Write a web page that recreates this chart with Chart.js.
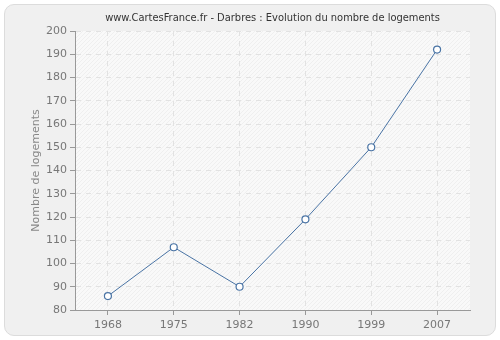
<!DOCTYPE html>
<html>
<head>
<meta charset="utf-8">
<script src="https://cdn.jsdelivr.net/npm/chart.js@4"></script>
<style>
  html, body { margin: 0; padding: 0; background: #fff; }
  .cadre {
    position: absolute; left: 4px; top: 4px; width: 490px; height: 330px;
    background: #f0f0f0; border: 1px solid #dcdcdc; border-radius: 10px;
  }
  .boite { position: absolute; left: 0; top: 0; width: 500px; height: 340px; }
</style>
</head>
<body>
<div class="cadre"></div>
<div class="boite"><canvas id="myChart" width="500" height="340"></canvas></div>
<script>
let annees = ["1968", "1975", "1982", "1990", "1999", "2007"];
let logements = [86, 107, 90, 119, 150, 192];
let titre = "www.CartesFrance.fr - Darbres : Evolution du nombre de logements";
let titreY = "Nombre de logements";

let ctx = document.getElementById("myChart");

// fond hachuré de la zone de tracé
let fondHachure = {
  id: "fondHachure",
  beforeDraw(chart) {
    let a = chart.chartArea;
    let c = chart.ctx;
    c.save();
    c.fillStyle = "#f9f9f9";
    c.fillRect(a.left, a.top, a.right - a.left, a.bottom - a.top);
    c.beginPath();
    c.rect(a.left, a.top, a.right - a.left, a.bottom - a.top);
    c.clip();
    c.strokeStyle = "#efefef";
    c.lineWidth = 1;
    let h = a.bottom - a.top;
    for (let x = a.left - h; x < a.right; x += 4) {
      c.beginPath();
      c.moveTo(x, a.bottom);
      c.lineTo(x + h, a.top);
      c.stroke();
    }
    c.restore();
  }
};

// titre centré au-dessus de la zone de tracé
let titreCentre = {
  id: "titreCentre",
  afterDraw(chart) {
    let a = chart.chartArea;
    let c = chart.ctx;
    c.save();
    c.font = "11px 'DejaVu Sans Condensed', 'DejaVu Sans'";
    c.fillStyle = "#333";
    c.textAlign = "center";
    c.textBaseline = "middle";
    c.fillText(titre, (a.left + a.right) / 2, 18);
    c.restore();
  }
};

let chartt = new Chart(ctx, {
  type: "line",
  data: {
    labels: annees,
    datasets: [
      {
        data: logements,
        borderColor: "#4a74a5",
        borderWidth: 1,
        backgroundColor: "#ffffff",
        pointBackgroundColor: "#ffffff",
        pointBorderColor: "#4a74a5",
        pointBorderWidth: 1.2,
        pointRadius: 3.5,
        tension: 0,
      },
    ],
  },
  options: {
    responsive: false,
    animation: false,
    layout: { padding: { left: 30, right: 30, top: 31, bottom: 0 } },
    plugins: {
      legend: { display: false },
      tooltip: { enabled: false },
      title: { display: false },
    },
    scales: {
      x: {
        offset: true,
        grid: {
          offset: false,
          color: "#e2e2e2",
          tickColor: "#999",
          tickLength: 5,
          drawTicks: true,
        },
        border: { color: "#999", dash: [5, 5], display: true },
        ticks: {
          color: "#777",
          padding: 4,
          font: { family: "DejaVu Sans", size: 11 },
        },
        afterFit(scale) { scale.height = 30; },
      },
      y: {
        min: 80,
        max: 200,
        grid: {
          color: "#e2e2e2",
          tickColor: "#999",
          tickLength: 5,
        },
        border: { color: "#999", dash: [5, 5] },
        ticks: {
          stepSize: 10,
          color: "#777",
          padding: 3,
          font: { family: "DejaVu Sans", size: 11 },
        },
        title: {
          display: true,
          text: titreY,
          color: "#888",
          padding: 0,
          font: { family: "DejaVu Sans", size: 11 },
        },
        afterFit(scale) { scale.width = 45; },
      },
    },
  },
  plugins: [fondHachure, titreCentre],
});
</script>
</body>
</html>
